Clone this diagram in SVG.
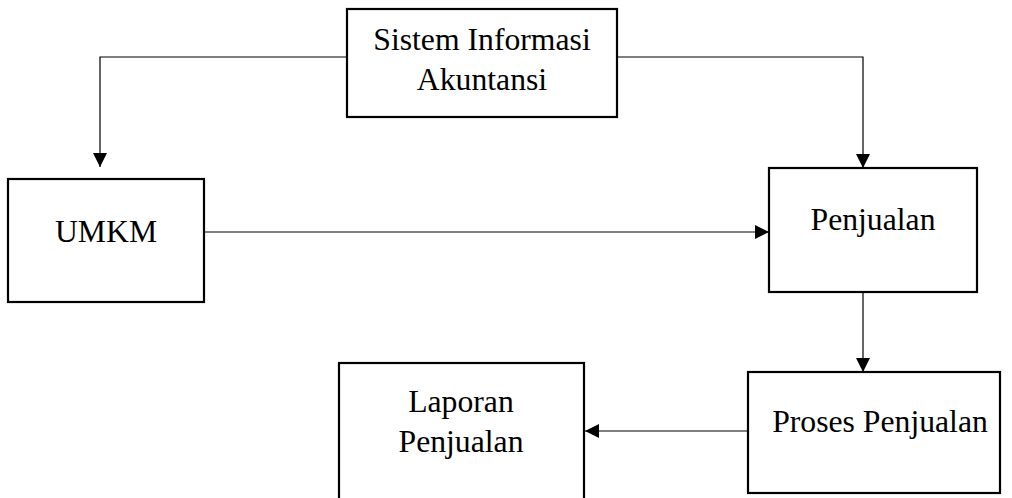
<svg xmlns="http://www.w3.org/2000/svg" width="1012" height="498" viewBox="0 0 1012 498">
<style>
.box{fill:#fff;stroke:#000;stroke-width:2.2}
.lbl{font-family:"Liberation Serif","Times New Roman",serif;font-size:31.7px;fill:#000;text-anchor:middle}
.con{fill:none;stroke:#000;stroke-width:1.2}
</style>
<defs>
<marker id="ah" markerWidth="14" markerHeight="14" refX="14" refY="7" orient="auto" markerUnits="userSpaceOnUse">
<path d="M0,0 L14,7 L0,14 Z" fill="#000"/>
</marker>
</defs>
<g id="connectors">
<path class="con" d="M347,57 H100 V167" marker-end="url(#ah)"/>
<path class="con" d="M617,57 H863 V168" marker-end="url(#ah)"/>
<path class="con" d="M204,232 H769" marker-end="url(#ah)"/>
<path class="con" d="M863,292 V372" marker-end="url(#ah)"/>
<path class="con" d="M748,431 H585" marker-end="url(#ah)"/>
</g>
<g id="sia">
<rect class="box" x="347" y="9" width="270" height="108"/>
<text class="lbl" x="482" y="50">Sistem Informasi</text>
<text class="lbl" x="482" y="90">Akuntansi</text>
</g>
<g id="umkm">
<rect class="box" x="8" y="179" width="196" height="123"/>
<text class="lbl" x="106" y="242">UMKM</text>
</g>
<g id="penjualan">
<rect class="box" x="769" y="168" width="208" height="124"/>
<text class="lbl" x="873" y="230">Penjualan</text>
</g>
<g id="proses">
<rect class="box" x="748" y="372" width="252" height="121"/>
<text class="lbl" x="880" y="432">Proses Penjualan</text>
</g>
<g id="laporan">
<rect class="box" x="339" y="363" width="245" height="140"/>
<text class="lbl" x="461" y="412">Laporan</text>
<text class="lbl" x="461" y="452">Penjualan</text>
</g>
</svg>
